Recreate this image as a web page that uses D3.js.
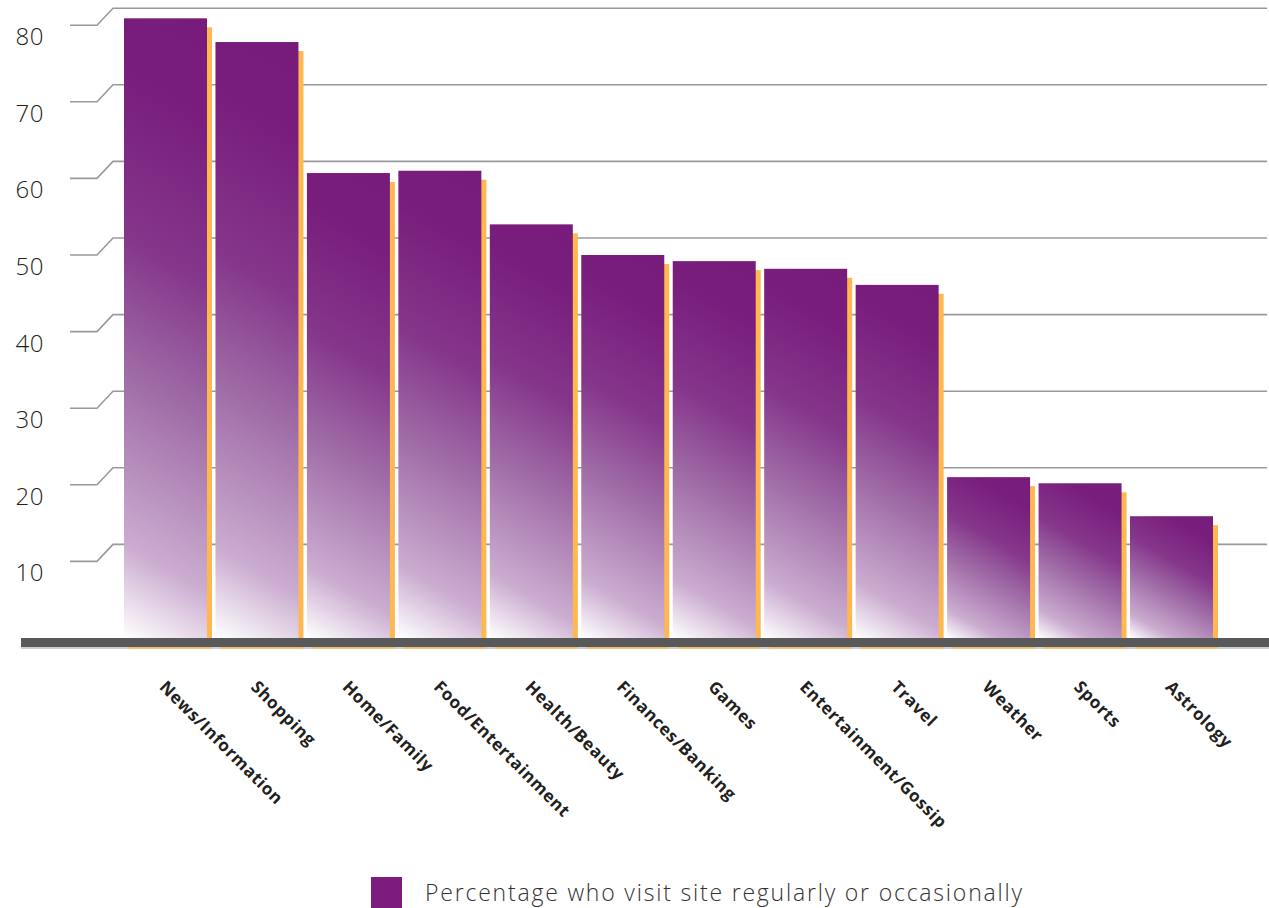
<!DOCTYPE html>
<html>
<head>
<meta charset="utf-8">
<script src="https://cdn.jsdelivr.net/npm/d3@7"></script>
<style>
  html, body { margin: 0; padding: 0; background: #ffffff; }
  svg { display: block; }
</style>
</head>
<body>
<svg id="chart" width="1269" height="908"></svg>
<script>
// Site categories and share of respondents who visit them
const categories = [
  "News/Information", "Shopping", "Home/Family", "Food/Entertainment",
  "Health/Beauty", "Finances/Banking", "Games", "Entertainment/Gossip",
  "Travel", "Weather", "Sports", "Astrology"
];
const values = [80.9, 77.8, 60.7, 61.0, 54.0, 50.0, 49.2, 48.2, 46.1, 21.0, 20.2, 15.9];
const yTicks = [10, 20, 30, 40, 50, 60, 70, 80];
const seriesName = "Percentage who visit site regularly or occasionally";

const svg = d3.select("#chart");
const W = 1269;

const baseY = 638;          // top of the floor slab
const depthX = 16, depthY = 17;   // perspective offset of the back wall

const y = d3.scaleLinear().domain([0, 80]).range([baseY, baseY - 80 * 7.66]);
const x = d3.scaleBand().domain(categories).range([124, 1213]).paddingInner(0.0925).paddingOuter(0);

const purple = "#781c7c";
const orange = "#fdb851";
const floor = "#58595b";

// Grid lines: short front lip, slanted step, then run along the back wall
const grid = svg.append("g").attr("class", "grid");
grid.selectAll("path")
  .data(yTicks)
  .join("path")
  .attr("d", v => {
    const yf = y(v);
    return `M70,${yf} L97,${yf} L${97 + depthX},${yf - depthY} L1267,${yf - depthY}`;
  })
  .attr("fill", "none")
  .attr("stroke", "#9a9a9a")
  .attr("stroke-width", 1.6);

// Tick labels
svg.append("g").selectAll("text")
  .data(yTicks)
  .join("text")
  .attr("x", 44)
  .attr("y", v => y(v) + 20)
  .attr("text-anchor", "end")
  .attr("font-family", "'Open Sans', 'Noto Sans', sans-serif")
  .attr("font-weight", 300)
  .attr("font-size", 24)
  .attr("letter-spacing", 0.5)
  .attr("fill", "#231f20")
  .text(d => d);

// Thin light line under the floor slab
svg.append("rect")
  .attr("x", 21).attr("y", baseY + 9)
  .attr("width", W - 21).attr("height", 2)
  .attr("fill", "#cfcfcf");

// Per-bar diagonal gradients, white at bottom-left fading to purple at top-right
const defs = svg.append("defs");
const ang = 60 * Math.PI / 180;
const data = categories.map((c, i) => ({ c, v: values[i], i }));

data.forEach(d => {
  const x0 = x(d.c), w = x.bandwidth();
  const h = y(0) - y(d.v);
  const L = w * Math.cos(ang) + h * Math.sin(ang);
  const g = defs.append("linearGradient")
    .attr("id", "barGrad" + d.i)
    .attr("gradientUnits", "userSpaceOnUse")
    .attr("x1", x0).attr("y1", y(0))
    .attr("x2", x0 + L * Math.cos(ang)).attr("y2", y(0) - L * Math.sin(ang));
  [[0, "#ffffff"], [0.14, "#cbadd0"], [0.4, "#9f6ba6"], [0.6, "#85378b"], [0.84, "#791e7d"], [1, purple]]
    .forEach(([o, col]) => g.append("stop").attr("offset", o).attr("stop-color", col));
});

// Orange drop shadow behind each bar
svg.append("g").selectAll("rect")
  .data(data)
  .join("rect")
  .attr("x", d => x(d.c) + 5)
  .attr("y", d => y(d.v) + 9)
  .attr("width", x.bandwidth())
  .attr("height", d => y(0) - y(d.v) + 1.5)
  .attr("fill", orange);

// Bars
svg.append("g").selectAll("rect")
  .data(data)
  .join("rect")
  .attr("x", d => x(d.c))
  .attr("y", d => y(d.v))
  .attr("width", x.bandwidth())
  .attr("height", d => y(0) - y(d.v))
  .attr("fill", d => `url(#barGrad${d.i})`);

// Floor slab
svg.append("rect")
  .attr("x", 21).attr("y", baseY)
  .attr("width", W - 21).attr("height", 9)
  .attr("fill", floor);

// Category labels, rotated 45 degrees
svg.append("g").selectAll("text")
  .data(categories)
  .join("text")
  .attr("transform", c => `translate(${x(c) + x.bandwidth() / 2 - 7},688) rotate(45)`)
  .attr("font-family", "'Open Sans', 'Noto Sans', sans-serif")
  .attr("font-weight", 700)
  .attr("font-size", 17)
  .attr("letter-spacing", 0.6)
  .attr("fill", "#231f20")
  .text(c => c);

// Legend
const legend = svg.append("g");
legend.append("rect")
  .attr("x", 371).attr("y", 877)
  .attr("width", 31).attr("height", 31)
  .attr("fill", "#7b1c7e");
legend.append("text")
  .attr("x", 425).attr("y", 901)
  .attr("font-family", "'Open Sans', 'Noto Sans', sans-serif")
  .attr("font-weight", 300)
  .attr("font-size", 23)
  .attr("letter-spacing", 1.8)
  .attr("fill", "#333333")
  .text(seriesName);
</script>
</body>
</html>
